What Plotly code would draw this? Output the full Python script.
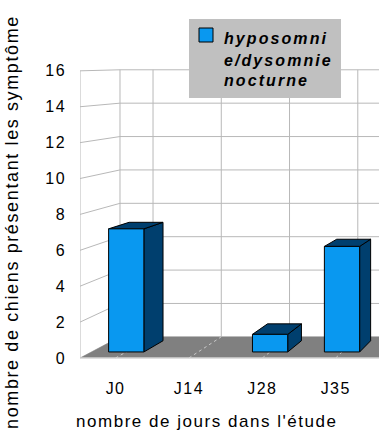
import plotly.graph_objects as go

# ---- data -------------------------------------------------------------
categories = ["J0", "J14", "J28", "J35"]
values = [7, 0, 1, 6]
y_ticks = [0, 2, 4, 6, 8, 10, 12, 14, 16]
legend_lines = ["hyposomni", "e/dysomnie", "nocturne"]
x_title = "nombre de jours dans l'étude"
y_title = "nombre de chiens présentant les symptôme"

# ---- style ------------------------------------------------------------
FONT = "Liberation Sans, Arial, sans-serif"
FACE_FRONT = "#0998f0"
FACE_DARK = "#003f6e"
GRID = "#b8b8b8"
FLOOR = "#808080"

# ---- pseudo-3D projection ---------------------------------------------
# Points are (category, value, depth scale); depth is a scale factor toward
# a vanishing point expressed in data units of the front plane.
VP_X, VP_Y = 7.30, 16.84
S_FRONT, S_BAR_FRONT, S_BAR_BACK, S_BACK = 1.0, 0.98, 0.943, 0.93
BAR_HALF = 0.245
X_RANGE = [-0.484, 3.59]
Y_RANGE = [-0.39, 19.39]
WALL_LEFT = X_RANGE[0]
WALL_RIGHT = 4.2
WALL_TOP = y_ticks[-1]

W, H = 379, 432
M = dict(l=80, r=0, t=10, b=67)


def spaced(text, em=0.09):
    """Wrap text in a span with extra letter spacing."""
    return f'<span style="letter-spacing:{em}em">{text}</span>'


def proj(c, v, s):
    return VP_X + (c - VP_X) * s, VP_Y + (v - VP_Y) * s


def polygon(points):
    pts = [proj(*p) for p in points]
    xs = [p[0] for p in pts] + [pts[0][0]]
    ys = [p[1] for p in pts] + [pts[0][1]]
    return xs, ys


def segments(pairs):
    xs, ys = [], []
    for a, b in pairs:
        pa, pb = proj(*a), proj(*b)
        xs += [pa[0], pb[0], None]
        ys += [pa[1], pb[1], None]
    return xs, ys


fig = go.Figure()

# walls: grid on the back wall and the left side wall
grid_pairs = []
for v in y_ticks:
    grid_pairs.append(((WALL_LEFT, v, S_BACK), (WALL_RIGHT, v, S_BACK)))
    grid_pairs.append(((WALL_LEFT, v, S_FRONT), (WALL_LEFT, v, S_BACK)))
for c in [WALL_LEFT] + list(range(len(categories))):
    grid_pairs.append(((c, 0, S_BACK), (c, WALL_TOP, S_BACK)))
grid_pairs.append(((WALL_LEFT, 0, S_FRONT), (WALL_LEFT, WALL_TOP, S_FRONT)))
gx, gy = segments(grid_pairs)
fig.add_trace(go.Scatter(x=gx, y=gy, mode="lines", hoverinfo="skip",
                         line=dict(color=GRID, width=1), showlegend=False))

# floor
fx, fy = polygon([(WALL_LEFT, 0, S_FRONT), (WALL_RIGHT, 0, S_FRONT),
                  (WALL_RIGHT, 0, S_BACK), (WALL_LEFT, 0, S_BACK)])
fig.add_trace(go.Scatter(x=fx, y=fy, mode="lines", fill="toself",
                         fillcolor=FLOOR, line=dict(width=0),
                         hoverinfo="skip", showlegend=False))
dx, dy = segments([((i, 0, S_FRONT), (i, 0, S_BACK)) for i in range(len(categories))])
fig.add_trace(go.Scatter(x=dx, y=dy, mode="lines", hoverinfo="skip",
                         line=dict(color="#c8c8c8", width=1, dash="dot"),
                         showlegend=False))
ex, ey = segments([((WALL_LEFT, 0, S_FRONT), (WALL_RIGHT, 0, S_FRONT))])
fig.add_trace(go.Scatter(x=ex, y=ey, mode="lines", hoverinfo="skip",
                         line=dict(color="#d4d4d4", width=1.5),
                         showlegend=False))

# bars: right side face, top face, then front face
for i, (cat, val) in enumerate(zip(categories, values)):
    if val <= 0:
        continue
    l, r = i - BAR_HALF, i + BAR_HALF
    faces = [
        ([(r, 0, S_BAR_FRONT), (r, 0, S_BAR_BACK), (r, val, S_BAR_BACK), (r, val, S_BAR_FRONT)], FACE_DARK),
        ([(l, val, S_BAR_FRONT), (r, val, S_BAR_FRONT), (r, val, S_BAR_BACK), (l, val, S_BAR_BACK)], FACE_DARK),
        ([(l, 0, S_BAR_FRONT), (r, 0, S_BAR_FRONT), (r, val, S_BAR_FRONT), (l, val, S_BAR_FRONT)], FACE_FRONT),
    ]
    for pts, color in faces:
        px, py = polygon(pts)
        fig.add_trace(go.Scatter(
            x=px, y=py, mode="lines", fill="toself", fillcolor=color,
            line=dict(color="#000000", width=1), showlegend=False,
            name=cat, hoveron="fills", hoverinfo="text",
            text=f"{cat}: {val}"))

# ---- legend box -------------------------------------------------------
PW = W - M["l"] - M["r"]
PH = H - M["t"] - M["b"]


def px_x(p):
    return (p - M["l"]) / PW


def px_y(p):
    return (H - M["b"] - p) / PH


shapes = [
    dict(type="rect", xref="paper", yref="paper", layer="above",
         x0=px_x(189), x1=px_x(341), y0=px_y(98), y1=px_y(19),
         fillcolor="#c0c0c0", line=dict(width=0)),
    dict(type="rect", xref="paper", yref="paper", layer="above",
         x0=px_x(199), x1=px_x(213), y0=px_y(42), y1=px_y(28),
         fillcolor=FACE_FRONT, line=dict(color="#000000", width=1)),
]

annotations = []
for line, yy in zip(legend_lines, [38, 60, 81]):
    annotations.append(dict(
        text=spaced(line, 0.13), xref="paper", yref="paper",
        x=px_x(222), y=px_y(yy), xanchor="left", yanchor="middle",
        align="left", showarrow=False,
        font=dict(family=FONT, size=16, color="#000000",
                  weight="bold", style="italic")))

annotations.append(dict(
    text=spaced(x_title), xref="paper", yref="paper", x=px_x(207),
    y=px_y(421), xanchor="center", yanchor="middle", showarrow=False,
    font=dict(family=FONT, size=17, color="#000000")))
annotations.append(dict(
    text=spaced(y_title), xref="paper", yref="paper", x=px_x(12),
    y=px_y(222), xanchor="center", yanchor="middle", showarrow=False,
    textangle=-90, font=dict(family=FONT, size=18, color="#000000")))

fig.update_layout(
    width=W, height=H, margin=M,
    paper_bgcolor="#ffffff", plot_bgcolor="#ffffff",
    showlegend=False, shapes=shapes, annotations=annotations,
    font=dict(family=FONT, size=16, color="#000000"),
    xaxis=dict(range=X_RANGE, tickvals=list(range(len(categories))),
               ticktext=[spaced(c) for c in categories], showgrid=False,
               zeroline=False, showline=False, ticks="",
               ticklabelstandoff=12, fixedrange=True),
    yaxis=dict(range=Y_RANGE, tickvals=y_ticks,
               ticktext=[spaced(str(t)) for t in y_ticks], showgrid=False,
               zeroline=False, showline=False, ticks="",
               ticklabelstandoff=13, fixedrange=True),
)

fig.write_html("out.html", config={"displayModeBar": False})
